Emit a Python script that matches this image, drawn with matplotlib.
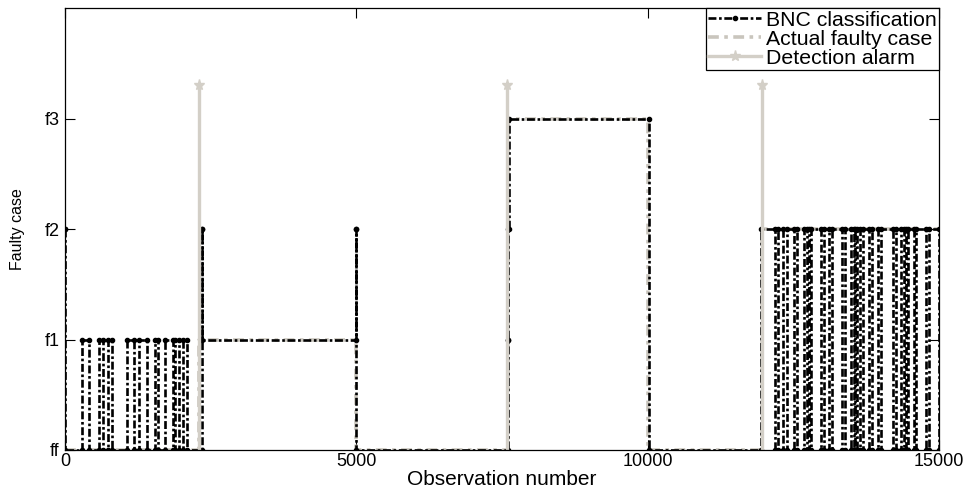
import matplotlib
matplotlib.use("Agg")
import matplotlib.pyplot as plt
import numpy as np

plt.rcParams['font.family'] = ['Liberation Sans', 'DejaVu Sans']

# ---- data ----
class_ticks = [0, 1, 2, 3]
class_labels = ['ff', 'f1', 'f2', 'f3']
x_ticks = [0, 5000, 10000, 15000]

# BNC classification: observation numbers where the class changes, and the class from that point
bnc_obs = [0, 0,
           297, 412, 589, 653, 744, 802, 1060, 1186, 1277, 1404, 1552, 1598,
           1723, 1851, 1895, 1964, 2033, 2091,
           2345, 2350, 4995, 5000,
           7610, 7610, 7615, 10020,
           11940,
           12190, 12240, 12330, 12385, 12520, 12565, 12690, 12740, 12770, 12810,
           12975, 13030, 13120, 13170, 13340, 13390, 13490, 13545, 13555, 13600,
           13650, 13700, 13800, 13845, 13950, 14000, 14210, 14255, 14350, 14400,
           14430, 14475, 14565, 14610, 14770, 14820, 15000]
bnc_cls = [2, 0,
           1, 0, 1, 0, 1, 0, 1, 0, 1, 0, 1, 0,
           1, 0, 1, 0, 1, 0,
           2, 1, 2, 0,
           1, 2, 3, 0,
           2,
           0, 2, 0, 2, 0, 2, 0, 2, 0, 2,
           0, 2, 0, 2, 0, 2, 0, 2, 0, 2,
           0, 2, 0, 2, 0, 2, 0, 2, 0, 2,
           0, 2, 0, 2, 0, 2, 0]
bnc_end = 15000

# Actual faulty case: change points and class
actual_obs = [0, 2300, 5000, 7600, 10000, 11965]
actual_cls = [0, 1, 0, 3, 0, 2]
actual_end = 15000

# Detection alarm
alarm_obs = [2300, 7590, 11962]
alarm_height = 3.3

# ---- build step vertices ----
def step_vertices(obs, cls, end):
    xs = [obs[0]]
    ys = [cls[0]]
    for i in range(1, len(obs)):
        xs += [obs[i], obs[i]]
        ys += [cls[i - 1], cls[i]]
    if end > xs[-1]:
        xs.append(end)
        ys.append(cls[-1])
    return xs, ys

fig = plt.figure(figsize=(9.74, 4.91), dpi=100)
ax = fig.add_axes([65 / 974, 41 / 491, 874 / 974, 442 / 491])

gray = '#c9c5bd'
ax_x, ax_y = step_vertices(actual_obs, actual_cls, actual_end)
h_act, = ax.plot(ax_x, ax_y, linestyle='-.', color=gray, lw=2.6,
                 dashes=(3, 1.5, 1, 1.5), label='Actual faulty case')

bx, by = step_vertices(bnc_obs, bnc_cls, bnc_end)
h_bnc, = ax.plot(bx, by, linestyle='-.', color='black', lw=1.9, marker='.',
                 markersize=6, dashes=(3, 1, 1, 1), label='BNC classification')

h_al = None
for i, a in enumerate(alarm_obs):
    h, = ax.plot([a, a], [0, alarm_height], color='#d3cfc7', lw=2.4,
                 marker='*', markersize=8, markevery=[1],
                 label='Detection alarm' if i == 0 else None)
    if i == 0:
        h_al = h

ax.set_xlim(0, 15000)
ax.set_ylim(0, 4)
ax.set_yticks(class_ticks)
ax.set_yticklabels(class_labels)
ax.set_xticks(x_ticks)
ax.set_xticklabels([str(v) for v in x_ticks])
ax.tick_params(direction='in', top=True, right=True, length=7, width=0.8,
               labelsize=13, pad=2)
ax.tick_params(axis='y', pad=4)
for s in ax.spines.values():
    s.set_linewidth(0.9)

ax.set_xlabel('Observation number', fontsize=15, labelpad=0)
ax.set_ylabel('Faulty case', fontsize=11.5)
ax.yaxis.set_label_coords(-0.046, 0.5)

leg = ax.legend(handles=[h_bnc, h_act, h_al], loc='upper right',
                bbox_to_anchor=(1.0, 1.0), borderaxespad=0, fontsize=15.3,
                fancybox=False, framealpha=1, edgecolor='black',
                handlelength=2.5, handletextpad=0.2, labelspacing=0.0,
                borderpad=0.12)
leg.get_frame().set_linewidth(0.9)

fig.savefig('out.png', dpi=100)
